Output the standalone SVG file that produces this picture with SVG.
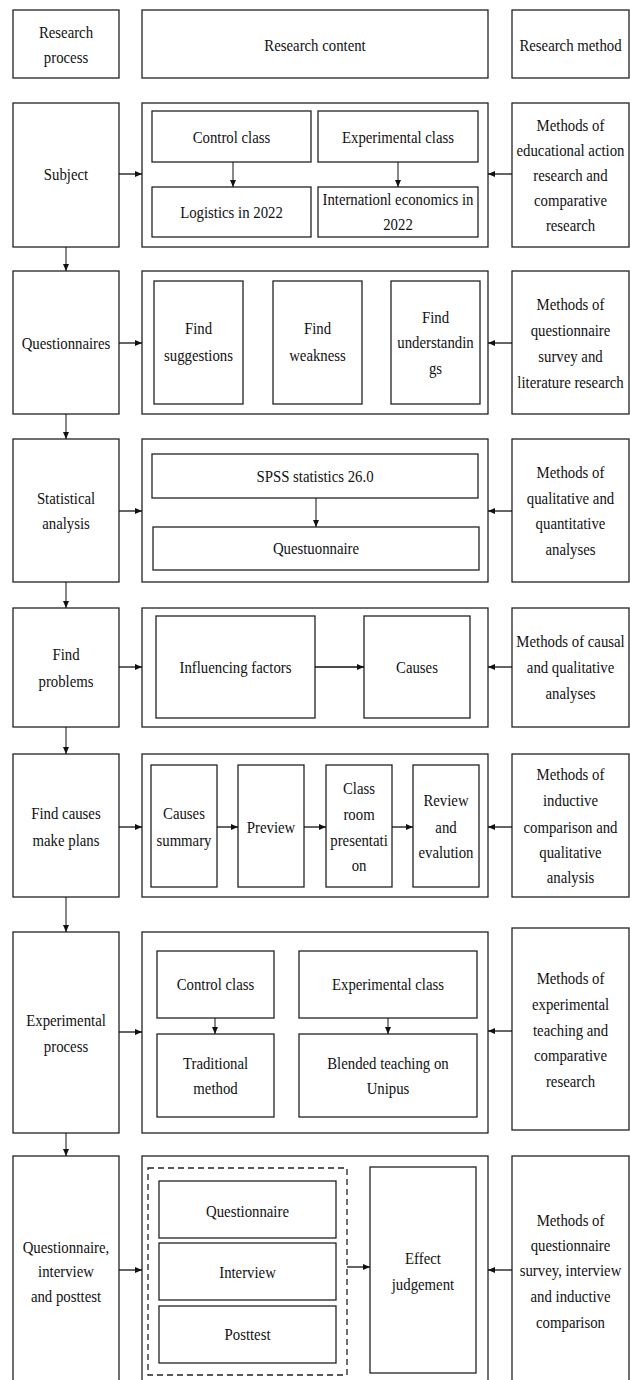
<svg xmlns="http://www.w3.org/2000/svg" width="630" height="1380" viewBox="0 0 630 1380">
<style>
rect{fill:#fff;stroke:#222;stroke-width:1.3}
rect.dash{fill:none;stroke-dasharray:6 4}
text{font-family:"Times New Roman","Liberation Serif","DejaVu Serif","Noto Serif",Times,serif;font-size:17px;fill:#111;text-anchor:middle}
.sq{transform-box:fill-box;transform-origin:center;transform:scaleX(0.87)}
.conn line{stroke:#111;stroke-width:1.3;marker-end:url(#ah)}
.conn line.thin{stroke-width:1}
</style>
<defs>
<marker id="ah" markerUnits="userSpaceOnUse" markerWidth="8" markerHeight="7" refX="7" refY="3.5" orient="auto">
<path d="M0,0.5 L7,3.5 L0,6.5 z" fill="#111"/>
</marker>
</defs>
<rect x="0" y="0" width="630" height="1380" style="fill:#fff;stroke:none"/>

<g id="hdr-process"><rect x="13" y="10" width="106" height="68"/><g class="sq"><text x="66" y="38">Research</text><text x="66" y="63">process</text></g></g>
<g id="hdr-content"><rect x="142" y="10" width="346" height="68"/><g class="sq"><text x="315" y="51">Research content</text></g></g>
<g id="hdr-method"><rect x="512" y="10" width="117" height="68"/><g class="sq"><text x="570.5" y="51">Research method</text></g></g>

<g id="p1"><rect x="13" y="103" width="106" height="144"/><g class="sq"><text x="66" y="180">Subject</text></g></g>
<g id="c1"><rect x="142" y="103" width="346" height="144"/></g>
<g id="c1a"><rect x="152" y="111" width="159" height="51"/><g class="sq"><text x="231.5" y="143">Control class</text></g></g>
<g id="c1b"><rect x="318" y="111" width="160" height="51"/><g class="sq"><text x="398" y="143">Experimental class</text></g></g>
<g id="c1c"><rect x="152" y="187" width="159" height="50"/><g class="sq"><text x="231.5" y="218">Logistics in 2022</text></g></g>
<g id="c1d"><rect x="318" y="187" width="160" height="50"/><g class="sq"><text x="398" y="205">Internationl economics in</text><text x="398" y="230">2022</text></g></g>
<g id="m1"><rect x="512" y="103" width="117" height="144"/><g class="sq"><text x="570.5" y="131">Methods of</text><text x="570.5" y="156">educational action</text><text x="570.5" y="181">research and</text><text x="570.5" y="206">comparative</text><text x="570.5" y="231">research</text></g></g>

<g id="p2"><rect x="13" y="271" width="106" height="143"/><g class="sq"><text x="66" y="349">Questionnaires</text></g></g>
<g id="c2"><rect x="142" y="271" width="346" height="143"/></g>
<g id="c2a"><rect x="154" y="281" width="89" height="123"/><g class="sq"><text x="198.5" y="334">Find</text><text x="198.5" y="361">suggestions</text></g></g>
<g id="c2b"><rect x="273" y="281" width="89" height="123"/><g class="sq"><text x="317.5" y="334">Find</text><text x="317.5" y="361">weakness</text></g></g>
<g id="c2c"><rect x="391" y="281" width="89" height="123"/><g class="sq"><text x="435.5" y="323">Find</text><text x="435.5" y="348">understandin</text><text x="435.5" y="374">gs</text></g></g>
<g id="m2"><rect x="512" y="271" width="117" height="143"/><g class="sq"><text x="570.5" y="310">Methods of</text><text x="570.5" y="336">questionnaire</text><text x="570.5" y="362">survey and</text><text x="570.5" y="388">literature research</text></g></g>

<g id="p3"><rect x="13" y="439" width="106" height="143"/><g class="sq"><text x="66" y="504">Statistical</text><text x="66" y="529">analysis</text></g></g>
<g id="c3"><rect x="142" y="439" width="346" height="143"/></g>
<g id="c3a"><rect x="152" y="454" width="326" height="44"/><g class="sq"><text x="315" y="482">SPSS statistics 26.0</text></g></g>
<g id="c3b"><rect x="153" y="527" width="326" height="43"/><g class="sq"><text x="316" y="554">Questuonnaire</text></g></g>
<g id="m3"><rect x="512" y="439" width="117" height="143"/><g class="sq"><text x="570.5" y="478">Methods of</text><text x="570.5" y="504">qualitative and</text><text x="570.5" y="529">quantitative</text><text x="570.5" y="555">analyses</text></g></g>

<g id="p4"><rect x="13" y="608" width="106" height="119"/><g class="sq"><text x="66" y="660">Find</text><text x="66" y="687">problems</text></g></g>
<g id="c4"><rect x="142" y="608" width="346" height="119"/></g>
<g id="c4a"><rect x="156" y="616" width="159" height="102"/><g class="sq"><text x="235.5" y="673">Influencing factors</text></g></g>
<g id="c4b"><rect x="364" y="616" width="106" height="102"/><g class="sq"><text x="417" y="673">Causes</text></g></g>
<g id="m4"><rect x="512" y="608" width="117" height="119"/><g class="sq"><text x="570.5" y="647">Methods of causal</text><text x="570.5" y="673">and qualitative</text><text x="570.5" y="699">analyses</text></g></g>

<g id="p5"><rect x="13" y="754" width="106" height="143"/><g class="sq"><text x="66" y="819">Find causes</text><text x="66" y="846">make plans</text></g></g>
<g id="c5"><rect x="142" y="754" width="346" height="143"/></g>
<g id="c5a"><rect x="151" y="765" width="66" height="122"/><g class="sq"><text x="184" y="819">Causes</text><text x="184" y="846">summary</text></g></g>
<g id="c5b"><rect x="238" y="765" width="66" height="122"/><g class="sq"><text x="271" y="833">Preview</text></g></g>
<g id="c5c"><rect x="326" y="765" width="66" height="122"/><g class="sq"><text x="359" y="794">Class</text><text x="359" y="820">room</text><text x="359" y="846">presentati</text><text x="359" y="871">on</text></g></g>
<g id="c5d"><rect x="413" y="765" width="66" height="122"/><g class="sq"><text x="446" y="806">Review</text><text x="446" y="833">and</text><text x="446" y="858">evalution</text></g></g>
<g id="m5"><rect x="512" y="754" width="117" height="143"/><g class="sq"><text x="570.5" y="780">Methods of</text><text x="570.5" y="806">inductive</text><text x="570.5" y="833">comparison and</text><text x="570.5" y="858">qualitative</text><text x="570.5" y="883">analysis</text></g></g>

<g id="p6"><rect x="13" y="932" width="106" height="201"/><g class="sq"><text x="66" y="1026">Experimental</text><text x="66" y="1052">process</text></g></g>
<g id="c6"><rect x="142" y="932" width="346" height="201"/></g>
<g id="c6a"><rect x="157" y="951" width="117" height="67"/><g class="sq"><text x="215.5" y="990">Control class</text></g></g>
<g id="c6b"><rect x="299" y="951" width="178" height="67"/><g class="sq"><text x="388" y="990">Experimental class</text></g></g>
<g id="c6c"><rect x="157" y="1034" width="117" height="83"/><g class="sq"><text x="215.5" y="1069">Traditional</text><text x="215.5" y="1094">method</text></g></g>
<g id="c6d"><rect x="299" y="1034" width="178" height="83"/><g class="sq"><text x="388" y="1069">Blended teaching on</text><text x="388" y="1094">Unipus</text></g></g>
<g id="m6"><rect x="512" y="928" width="117" height="202"/><g class="sq"><text x="570.5" y="984">Methods of</text><text x="570.5" y="1010">experimental</text><text x="570.5" y="1036">teaching and</text><text x="570.5" y="1061">comparative</text><text x="570.5" y="1087">research</text></g></g>

<g id="p7"><rect x="13" y="1156" width="106" height="234"/><g class="sq"><text x="66" y="1253">Questionnaire,</text><text x="66" y="1277">interview</text><text x="66" y="1302">and posttest</text></g></g>
<g id="c7"><rect x="142" y="1156" width="346" height="234"/><rect class="dash" x="148" y="1168" width="199" height="207"/></g>
<g id="c7a"><rect x="159" y="1181" width="177" height="57"/><g class="sq"><text x="247.5" y="1217">Questionnaire</text></g></g>
<g id="c7b"><rect x="159" y="1243" width="177" height="57"/><g class="sq"><text x="247.5" y="1278">Interview</text></g></g>
<g id="c7c"><rect x="159" y="1306" width="177" height="57"/><g class="sq"><text x="247.5" y="1340">Posttest</text></g></g>
<g id="c7d"><rect x="370" y="1167" width="106" height="206"/><g class="sq"><text x="423" y="1264">Effect</text><text x="423" y="1290">judgement</text></g></g>
<g id="m7"><rect x="512" y="1156" width="117" height="234"/><g class="sq"><text x="570.5" y="1226">Methods of</text><text x="570.5" y="1251">questionnaire</text><text x="570.5" y="1276">survey, interview</text><text x="570.5" y="1302">and inductive</text><text x="570.5" y="1328">comparison</text></g></g>

<g id="connectors" class="conn">
<line x1="119" y1="174" x2="142" y2="174"/>
<line x1="119" y1="343" x2="142" y2="343"/>
<line x1="119" y1="511" x2="142" y2="511"/>
<line x1="119" y1="667" x2="142" y2="667"/>
<line x1="119" y1="827" x2="142" y2="827"/>
<line x1="119" y1="1032" x2="142" y2="1032"/>
<line x1="119" y1="1270" x2="142" y2="1270"/>
<line x1="512" y1="174" x2="488" y2="174"/>
<line x1="512" y1="343" x2="488" y2="343"/>
<line x1="512" y1="511" x2="488" y2="511"/>
<line x1="512" y1="667" x2="488" y2="667"/>
<line x1="512" y1="827" x2="488" y2="827"/>
<line x1="512" y1="1031" x2="488" y2="1031"/>
<line x1="512" y1="1270" x2="488" y2="1270"/>
<line class="thin" x1="66" y1="247" x2="66" y2="271"/>
<line class="thin" x1="66" y1="414" x2="66" y2="439"/>
<line class="thin" x1="66" y1="582" x2="66" y2="608"/>
<line class="thin" x1="66" y1="727" x2="66" y2="754"/>
<line class="thin" x1="66" y1="897" x2="66" y2="932"/>
<line class="thin" x1="66" y1="1133" x2="66" y2="1156"/>
<line class="thin" x1="233" y1="162" x2="233" y2="187"/>
<line class="thin" x1="398" y1="162" x2="398" y2="187"/>
<line class="thin" x1="316" y1="498" x2="316" y2="527"/>
<line x1="315" y1="667" x2="364" y2="667"/>
<line x1="217" y1="827" x2="238" y2="827"/>
<line x1="304" y1="827" x2="326" y2="827"/>
<line x1="392" y1="827" x2="413" y2="827"/>
<line class="thin" x1="215" y1="1018" x2="215" y2="1034"/>
<line class="thin" x1="388" y1="1018" x2="388" y2="1034"/>
<line x1="347" y1="1267" x2="370" y2="1267"/>
</g>
</svg>
